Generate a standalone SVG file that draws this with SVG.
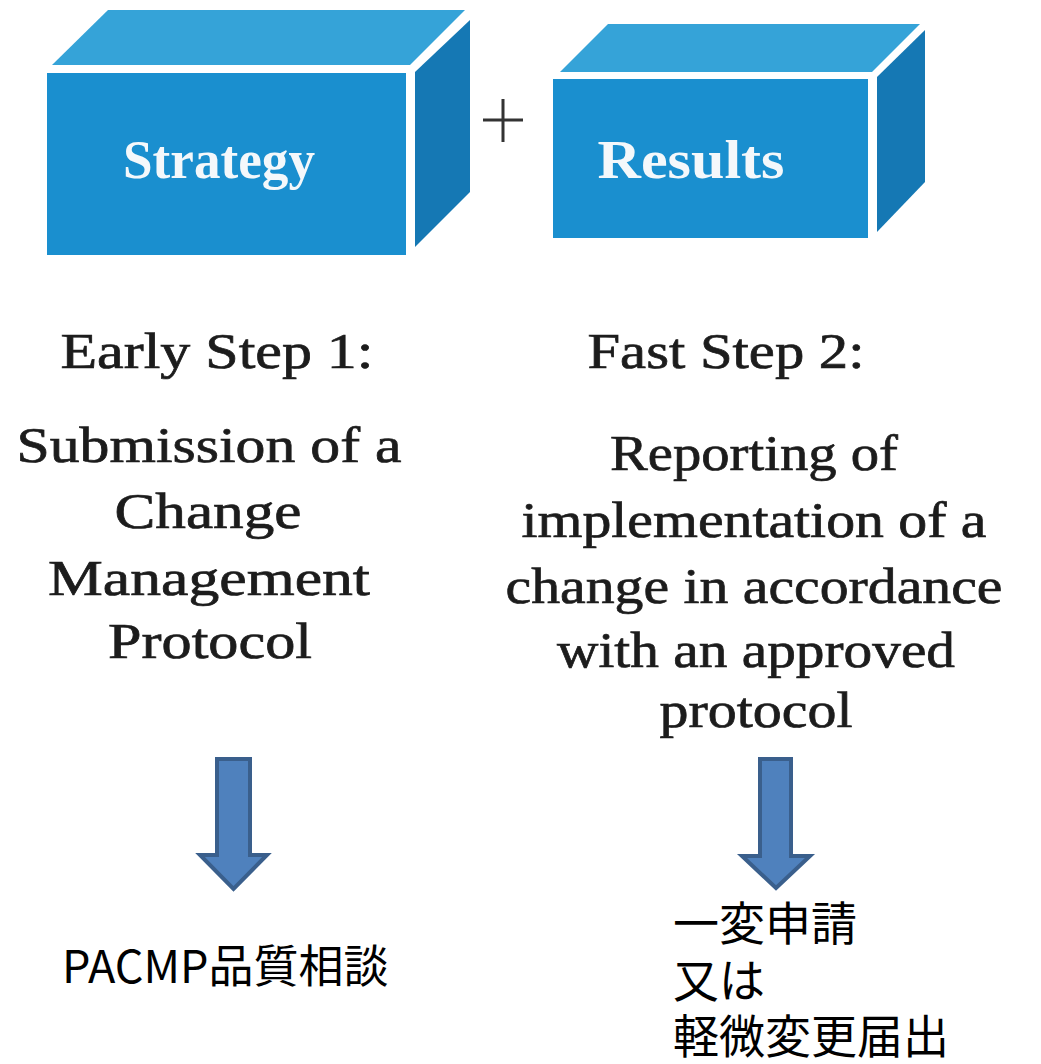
<svg xmlns="http://www.w3.org/2000/svg" width="1041" height="1064" viewBox="0 0 1041 1064">
<style>
.front{fill:#1a8fcf}
.top{fill:#35a3d8}
.side{fill:#1578b4}
.boxlabel{font-family:"Liberation Serif","Times New Roman",serif;font-weight:bold;font-size:55px;fill:#f4f8fb;text-anchor:middle}
.serif{font-family:"Liberation Serif","Times New Roman",serif;font-size:50px;fill:#1c1c1c;stroke:#1c1c1c;stroke-width:0.7;text-anchor:middle}
.jp{font-family:"Noto Sans CJK JP",sans-serif;font-size:45px;fill:#000}
.arrow{fill:#4f81bd;stroke:#3a5f8c;stroke-width:4;stroke-linejoin:miter}
.plus{stroke:#333;stroke-width:3;fill:none}
</style>
<rect width="1041" height="1064" fill="#ffffff"/>
<g id="strategy">
<polygon class="top" points="52,65 108,10 465,10 410,65"/>
<polygon class="side" points="415,72 470,20 470,192 415,247"/>
<rect class="front" x="47" y="73" width="359" height="182"/>
<text class="boxlabel" x="219" y="178" textLength="192" lengthAdjust="spacingAndGlyphs">Strategy</text>
</g>
<g id="plus">
<path class="plus" d="M483,120 H523 M503,99 V142"/>
</g>
<g id="results">
<polygon class="top" points="560,72 608,24 920,24 872,72"/>
<polygon class="side" points="877,77 925,30 925,182 877,232"/>
<rect class="front" x="553" y="79" width="315" height="159"/>
<text class="boxlabel" x="691" y="178" textLength="187" lengthAdjust="spacingAndGlyphs">Results</text>
</g>
<g id="step1">
<text class="serif" x="217" y="368" textLength="313" lengthAdjust="spacingAndGlyphs">Early Step 1:</text>
<text class="serif" x="209" y="462" textLength="385" lengthAdjust="spacingAndGlyphs">Submission of a</text>
<text class="serif" x="208" y="528" textLength="187" lengthAdjust="spacingAndGlyphs">Change</text>
<text class="serif" x="209" y="595" textLength="322" lengthAdjust="spacingAndGlyphs">Management</text>
<text class="serif" x="210" y="658" textLength="204" lengthAdjust="spacingAndGlyphs">Protocol</text>
</g>
<g id="step2">
<text class="serif" x="726" y="368" textLength="277" lengthAdjust="spacingAndGlyphs">Fast Step 2:</text>
<text class="serif" x="754" y="470" textLength="288" lengthAdjust="spacingAndGlyphs">Reporting of</text>
<text class="serif" x="754" y="537" textLength="465" lengthAdjust="spacingAndGlyphs">implementation of a</text>
<text class="serif" x="754" y="603" textLength="497" lengthAdjust="spacingAndGlyphs">change in accordance</text>
<text class="serif" x="756" y="667" textLength="398" lengthAdjust="spacingAndGlyphs">with an approved</text>
<text class="serif" x="756" y="727" textLength="193" lengthAdjust="spacingAndGlyphs">protocol</text>
</g>
<g id="connectors">
<path class="arrow" d="M217,759 H250 V855 H267 L233.5,889 L200,855 H217 Z"/>
<path class="arrow" d="M760,759 H791 V856 H810 L776,888 L742,856 H760 Z"/>
</g>
<g id="pacmp">
<text class="jp" x="62" y="983">PACMP品質相談</text>
</g>
<g id="ippen">
<text class="jp" x="673" y="940" style="font-size:46px">一変申請</text>
<text class="jp" x="673" y="997" style="font-size:46px">又は</text>
<text class="jp" x="673" y="1053" style="font-size:46px">軽微変更届出</text>
</g>
</svg>
